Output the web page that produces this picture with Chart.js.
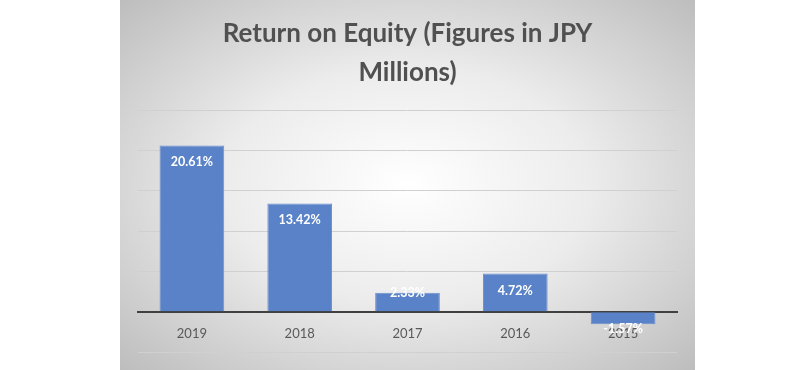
<!DOCTYPE html>
<html>
<head>
<meta charset="utf-8">
<script src="https://cdn.jsdelivr.net/npm/chart.js"></script>
<style>
  html, body { margin: 0; padding: 0; background: #fff; }
  #panel {
    position: absolute; left: 120px; top: 0; width: 575px; height: 370px;
    background: radial-gradient(ellipse farthest-corner at 50% 50%, #ffffff 0%, #ececec 45%, #bdbdbd 100%);
  }
</style>
</head>
<body>
<div id="panel"><canvas id="grafica" width="575" height="370"></canvas></div>
<script>
const anios = ["2019", "2018", "2017", "2016", "2015"];
const roe = [20.61, 13.42, 2.33, 4.72, -1.57];
const titulo = ["Return on Equity (Figures in JPY", "Millions)"];

// etiquetas dentro del extremo de cada barra
const etiquetas = {
  id: "etiquetas",
  afterDatasetsDraw(chart) {
    const ctx = chart.ctx;
    const meta = chart.getDatasetMeta(0);
    ctx.save();
    ctx.fillStyle = "#ffffff";
    ctx.font = "bold 12.5px Lato";
    ctx.textAlign = "center";
    ctx.textBaseline = "middle";
    meta.data.forEach((bar, i) => {
      const v = roe[i];
      let y;
      if (v >= 0) {
        y = Math.min(bar.y + 17, bar.base - 18);
      } else {
        y = bar.y + 5;
      }
      ctx.fillText(v.toFixed(2) + "%", bar.x, y);
    });
    ctx.restore();
  }
};

new Chart(document.getElementById("grafica"), {
  type: "bar",
  data: {
    labels: anios,
    datasets: [{
      data: roe,
      backgroundColor: "#5a82c8",
      borderColor: "#6a8fd0",
      borderWidth: 1,
      categoryPercentage: 1,
      barPercentage: 0.6
    }]
  },
  options: {
    responsive: false,
    animation: false,
    layout: { padding: { left: 18, right: 18, top: 0, bottom: 18 } },
    plugins: {
      legend: { display: false },
      tooltip: { enabled: false },
      title: {
        display: true,
        text: titulo,
        color: "#505050",
        font: { family: "Lato", size: 26, weight: "bold", lineHeight: 1.5 },
        padding: { top: 14, bottom: 18 }
      }
    },
    scales: {
      x: {
        position: { y: 0 },
        z: 1,
        grid: { display: false },
        border: { display: true, color: "#404040", width: 2 },
        ticks: { color: "#595959", font: { family: "Lato", size: 13 }, padding: 6 }
      },
      y: {
        min: -5,
        max: 25,
        ticks: { display: false, stepSize: 5 },
        border: { display: false },
        grid: {
          color: c => c.tick.value === 0 ? "#404040" : "#d0d0d0",
          lineWidth: 1,
          drawTicks: false
        }
      }
    }
  },
  plugins: [etiquetas]
});
</script>
</body>
</html>
